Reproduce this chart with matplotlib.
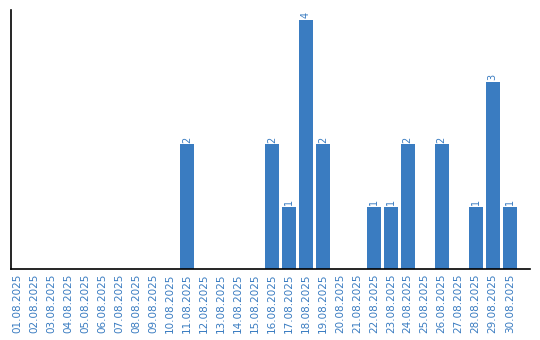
import matplotlib
matplotlib.use("Agg")
import matplotlib.pyplot as plt
import numpy as np

dates = ["%02d.08.2025" % d for d in range(1, 31)]
counts = [0, 0, 0, 0, 0, 0, 0, 0, 0, 0, 2, 0, 0, 0, 0, 2, 1, 4, 2, 0,
          0, 1, 1, 2, 0, 2, 0, 1, 3, 1]

color = "#3a7cc1"

fig = plt.figure(figsize=(5.4, 3.4), dpi=100)
ax = fig.add_axes([0.0204, 0.2088, 0.9606, 0.7618])

x = np.arange(len(dates))
bars = ax.bar(x, counts, width=0.82, color=color)
for xi, c in zip(x, counts):
    if c > 0:
        ax.text(xi, c + 0.03, str(c), rotation=90, ha="center", va="bottom",
                color=color, fontsize=7)

ax.set_xlim(-0.35, 30.18)
ax.set_ylim(0, 4.16)
ax.set_xticks(x)
ax.set_xticklabels(dates, rotation=90, color=color, fontsize=7.5)
ax.tick_params(axis="x", length=0, pad=3)
ax.set_yticks([])
for s in ["top", "right"]:
    ax.spines[s].set_visible(False)
ax.spines["left"].set_linewidth(1.2)
ax.spines["bottom"].set_linewidth(1.2)

fig.savefig("out.png", dpi=100)
